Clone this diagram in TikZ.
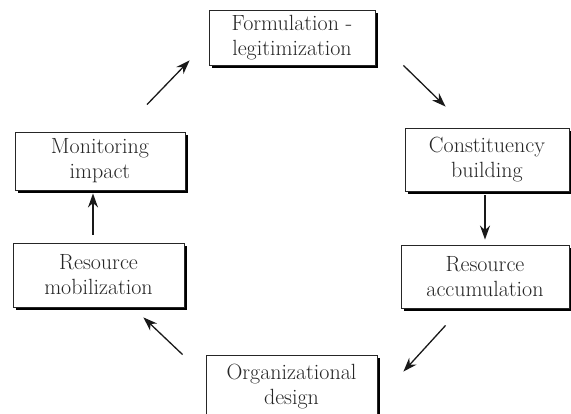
\documentclass[tikz,border=0pt]{standalone}
\usepackage{tikz}
\usetikzlibrary{arrows.meta,shadows}

\begin{document}
\begin{tikzpicture}[x=1pt,y=-1pt,
    stage/.style={draw=black!85, line width=0.9pt, fill=white, align=center,
      minimum width=168pt, minimum height=60pt, inner sep=2pt,
      font=\fontsize{22}{25}\selectfont, text=black!85,
      drop shadow={shadow xshift=3pt, shadow yshift=-3pt, fill=black, opacity=1}},
    flow/.style={-{Stealth[length=14pt,width=10pt]}, line width=1.3pt, black!90}]
            \useasboundingbox (0,0) rectangle (571,414);
            \clip (0,0) rectangle (571,414);

            % the six stages, clockwise from the top
            \node[stage, minimum width=166pt, minimum height=55pt] (form) at (292,37.5) {Formulation -\\legitimization};
            \node[stage, minimum width=164pt, minimum height=63pt] (const) at (487,159.5) {Constituency\\building};
            \node[stage, minimum height=63pt] (accum) at (485,276.5) {Resource\\accumulation};
            \node[stage, minimum width=171pt, minimum height=64pt] (org) at (291.5,387) {Organizational\\design};
            \node[stage, minimum width=171pt, minimum height=64pt] (mobil) at (98.5,275) {Resource\\mobilization};
            \node[stage, minimum width=170pt, minimum height=58pt] (monit) at (100,161) {Monitoring\\impact};

            \draw[flow] ([shift={(28,0)}]form.south east) -- ([shift={(41,-21)}]const.north west);
            \draw[flow] ([shift={(-2,4)}]const.south) -- ([shift={(0,-5)}]accum.north);
            \draw[flow] ([shift={(45,17)}]accum.south west) -- ([shift={(26,17)}]org.north east);
            \draw[flow] ([shift={(-23,0)}]org.north west) -- ([shift={(-41,10)}]mobil.south east);
            \draw[flow] ([shift={(-5.5,-8)}]mobil.north) -- ([shift={(-7,3)}]monit.south);
            \draw[flow] ([shift={(47,-27)}]monit.north) -- ([shift={(-19,-5)}]form.south west);
\end{tikzpicture}
\end{document}
